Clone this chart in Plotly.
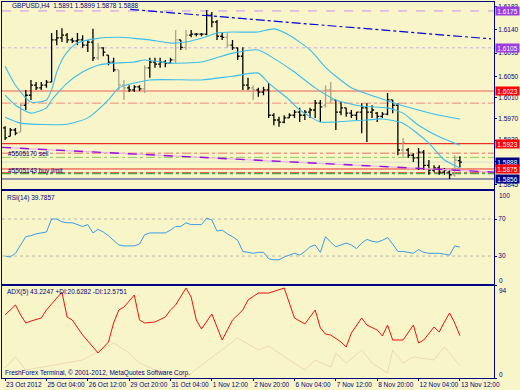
import plotly.graph_objects as go

# ---------------- data ----------------
time_labels = ["23 Oct 2012", "25 Oct 04:00", "26 Oct 12:00", "29 Oct 20:00", "31 Oct 04:00",
               "1 Nov 12:00", "2 Nov 20:00", "6 Nov 04:00", "7 Nov 12:00", "8 Nov 20:00",
               "12 Nov 04:00", "13 Nov 12:00"]
time_label_bars = [0, 8, 16, 24, 32, 40, 48, 56, 64, 72, 80, 88]

bar_open = [1.5953, 1.5937, 1.5949, 1.5945, 1.5996, 1.6015, 1.6034, 1.6029, 1.6034, 1.6040,
            1.6120, 1.6124, 1.6129, 1.6120, 1.6118, 1.6120, 1.6110, 1.6116, 1.6086, 1.6105,
            1.6091, 1.6078, 1.6063, 1.6034, 1.6029, 1.6025, 1.6031, 1.6027, 1.6067, 1.6078,
            1.6074, 1.6078, 1.6076, 1.6082, 1.6120, 1.6106, 1.6129, 1.6131, 1.6131, 1.6131,
            1.6167, 1.6154, 1.6127, 1.6125, 1.6110, 1.6105, 1.6089, 1.6034, 1.6029, 1.6025,
            1.6021, 1.6025, 1.5977, 1.5968, 1.5964, 1.5972, 1.5977, 1.5983, 1.5977, 1.5983,
            1.5987, 1.6000, 1.5996, 1.6025, 1.6006, 1.5983, 1.5991, 1.5981, 1.5977, 1.5983,
            1.5991, 1.5983, 1.5981, 1.5975, 1.5979, 1.6006, 1.5996, 1.5911, 1.5911, 1.5901,
            1.5896, 1.5907, 1.5882, 1.5873, 1.5877, 1.5869, 1.5869, 1.5864, 1.5891]
bar_high = [1.5956, 1.5953, 1.5953, 1.6000, 1.6025, 1.6044, 1.6040, 1.6040, 1.6044, 1.6133,
            1.6139, 1.6142, 1.6133, 1.6124, 1.6133, 1.6129, 1.6120, 1.6141, 1.6114, 1.6106,
            1.6091, 1.6086, 1.6063, 1.6044, 1.6034, 1.6034, 1.6034, 1.6072, 1.6086, 1.6086,
            1.6086, 1.6082, 1.6086, 1.6139, 1.6120, 1.6139, 1.6139, 1.6133, 1.6133, 1.6177,
            1.6173, 1.6158, 1.6133, 1.6133, 1.6120, 1.6105, 1.6106, 1.6048, 1.6034, 1.6029,
            1.6031, 1.6038, 1.5981, 1.5974, 1.5977, 1.5981, 1.5987, 1.5991, 1.5987, 1.5991,
            1.6006, 1.6006, 1.6034, 1.6040, 1.6006, 1.6002, 1.5991, 1.5987, 1.5983, 1.6000,
            1.6000, 1.5996, 1.5983, 1.5983, 1.6019, 1.6006, 1.6000, 1.5934, 1.5915, 1.5905,
            1.5915, 1.5911, 1.5892, 1.5882, 1.5882, 1.5877, 1.5873, 1.5901, 1.5899]
bar_low = [1.5930, 1.5937, 1.5939, 1.5945, 1.5987, 1.6006, 1.6025, 1.6025, 1.6029, 1.6040,
           1.6110, 1.6116, 1.6114, 1.6114, 1.6110, 1.6105, 1.6097, 1.6080, 1.6082, 1.6089,
           1.6072, 1.6059, 1.6025, 1.6006, 1.6021, 1.6021, 1.6023, 1.6019, 1.6048, 1.6067,
           1.6067, 1.6068, 1.6076, 1.6076, 1.6101, 1.6101, 1.6125, 1.6127, 1.6127, 1.6129,
           1.6144, 1.6120, 1.6120, 1.6105, 1.6101, 1.6082, 1.6025, 1.6025, 1.6006, 1.6012,
           1.6015, 1.5972, 1.5958, 1.5955, 1.5962, 1.5972, 1.5972, 1.5964, 1.5968, 1.5972,
           1.5972, 1.5964, 1.5991, 1.6000, 1.5949, 1.5977, 1.5974, 1.5972, 1.5968, 1.5943,
           1.5926, 1.5972, 1.5964, 1.5972, 1.5977, 1.5981, 1.5901, 1.5898, 1.5896, 1.5888,
           1.5873, 1.5873, 1.5864, 1.5869, 1.5864, 1.5864, 1.5856, 1.5860, 1.5878]
bar_close = [1.5934, 1.5949, 1.5943, 1.5996, 1.6015, 1.6034, 1.6029, 1.6034, 1.6040, 1.6120,
             1.6124, 1.6129, 1.6120, 1.6118, 1.6120, 1.6110, 1.6116, 1.6086, 1.6105, 1.6097,
             1.6078, 1.6063, 1.6034, 1.6029, 1.6025, 1.6031, 1.6027, 1.6067, 1.6078, 1.6074,
             1.6078, 1.6076, 1.6082, 1.6120, 1.6106, 1.6129, 1.6131, 1.6131, 1.6131, 1.6167,
             1.6154, 1.6127, 1.6125, 1.6110, 1.6105, 1.6089, 1.6034, 1.6029, 1.6025, 1.6021,
             1.6025, 1.5977, 1.5968, 1.5964, 1.5972, 1.5977, 1.5983, 1.5977, 1.5983, 1.5987,
             1.6000, 1.5993, 1.6025, 1.6006, 1.5983, 1.5991, 1.5981, 1.5977, 1.5983, 1.5991,
             1.5983, 1.5987, 1.5975, 1.5979, 1.6006, 1.5996, 1.5911, 1.5926, 1.5901, 1.5896,
             1.5907, 1.5882, 1.5873, 1.5877, 1.5869, 1.5873, 1.5864, 1.5892, 1.5888]
grey_bars = [3, 18, 22, 23, 27, 33, 35, 43, 48, 62, 63, 77, 87]

# Bollinger bands (bar index, price)
bb_upper_idx = [0, 2, 5, 8, 9, 10, 11, 12, 14, 18, 22, 25, 28, 32, 35, 38, 41, 44, 49, 52, 55, 59, 62, 64, 67, 69, 72, 76, 80, 84, 88]
bb_upper = [1.6070, 1.6034, 1.6002, 1.6006, 1.6025, 1.6059, 1.6082, 1.6097, 1.6114, 1.6123, 1.6125, 1.6123, 1.6120, 1.6114, 1.6116, 1.6123,
            1.6133, 1.6135, 1.6135, 1.6141, 1.6129, 1.6101, 1.6068, 1.6051, 1.6029, 1.6021, 1.6011, 1.5998, 1.5987, 1.5977, 1.5970]
bb_mid_idx = [0, 2, 5, 8, 9, 12, 15, 18, 21, 25, 27, 32, 38, 44, 49, 52, 56, 60, 64, 69, 74, 77, 80, 84, 88]
bb_mid = [1.6015, 1.5996, 1.5981, 1.5991, 1.6006, 1.6038, 1.6059, 1.6072, 1.6076, 1.6078, 1.6082, 1.6076, 1.6078, 1.6095, 1.6101, 1.6085,
          1.6059, 1.6029, 1.6006, 1.5994, 1.5991, 1.5981, 1.5958, 1.5936, 1.5920]
bb_lower_idx = [0, 3, 12, 16, 20, 22, 28, 38, 44, 49, 51, 55, 57, 61, 63, 70, 73, 77, 82, 85, 88]
bb_lower = [1.5973, 1.5962, 1.5960, 1.5972, 1.6006, 1.6029, 1.6044, 1.6044, 1.6051, 1.6057, 1.6038, 1.6006, 1.5987, 1.5964, 1.5964,
            1.5968, 1.5970, 1.5962, 1.5924, 1.5892, 1.5877]

# drawn trend lines (bar index, price)
trend_blue_idx = [24.2, 94.0]
trend_blue = [1.6178, 1.6122]
trend_purple_idx = [-0.6, 94.6]
trend_purple = [1.5916, 1.5869]

# horizontal levels: price, color, dash
levels = [
    (1.6175, "#C890EE", "dash"),
    (1.6105, "#D0B0E0", "dot"),
    (1.6023, "#F05A50", "solid"),
    (1.6000, "#F08878", "dashdot"),
    (1.5923, "#E80000", "solid"),
    (1.5905, "#E87060", "dashdot"),
    (1.5897, "#90C860", "dashdot"),
    (1.5888, "#DCDCD4", "solid"),
    (1.5875, "#F03030", "solid"),
    (1.5868, "#E04040", "dashdot"),
    (1.5866, "#20A020", "dashdot"),
    (1.5856, "#303090", "solid"),
]
price_tags = [(1.6175, "#9B3BE0"), (1.6105, "#9B3BE0"), (1.6023, "#FF0000"), (1.5923, "#FF0000"),
              (1.5888, "#000080"), (1.5875, "#FF0000"), (1.5856, "#000080")]
price_ticks = [1.6183, 1.6140, 1.6095, 1.6050, 1.6010, 1.5970, 1.5930, 1.5890, 1.5845]

order_labels = [("#5505170 sell", 1.5905), ("#5505143 buy limit", 1.5872)]

rsi = [30, 29, 33, 42, 51, 52, 54, 55, 56, 70, 70, 67, 66, 66, 64, 62, 64, 55, 59, 56,
       52, 47, 42, 41, 41, 41, 43, 53, 55, 55, 55, 55, 58, 62, 62, 66, 64, 64, 64, 71,
       69, 57, 58, 54, 51, 47, 35, 34, 33, 34, 34, 27, 26, 26, 29, 31, 33, 31, 35, 40,
       42, 34, 51, 45, 40, 42, 44, 42, 38, 44, 48, 46, 45, 47, 50, 43, 35, 35, 34, 33,
       37, 34, 33, 33, 33, 32, 31, 41, 39.7857]
rsi_levels = [70, 30]

adx_idx = [0, 2, 3, 4, 5, 7, 8, 10, 11, 12, 13, 15, 18, 20, 21, 22, 23, 25, 26, 27, 29, 31, 32, 33, 35, 36, 37, 38, 40, 42, 44, 46, 47,
           49, 51, 54, 55, 56, 58, 60, 61, 62, 63, 65, 66, 67, 69, 70, 72, 73, 74, 75, 77, 78, 79, 80, 81, 83, 84, 85, 86, 87, 88]
adx = [64.4, 74.6, 64.4, 56.2, 58.2, 61.3, 69.5, 81.7, 87.8, 62.3, 59.2, 43.9, 25.5, 36.8, 56.2, 69.5, 72.5, 84.8, 59.2, 56.2, 57.2,
       62.3, 69.5, 74.6, 91.9, 82.7, 59.2, 50.1, 65.4, 38.8, 59.2, 69.5, 79.7, 86.8, 86.8, 91.9, 76.6, 61.3, 55.2, 69.5, 51.1, 44.9,
       43.9, 36.8, 31.7, 46.0, 61.3, 54.1, 49.0, 42.9, 54.1, 38.8, 38.8, 46.0, 54.1, 35.8, 38.8, 52.1, 47.0, 57.2, 66.4, 56.2, 43.2247]
minus_di_idx = [0, 2, 4, 15, 21, 24, 26, 29, 35, 41, 45, 49, 51, 55, 58, 60, 63, 64, 66, 69, 71, 74, 75, 77, 79, 83, 85, 88]
minus_di = [10.2, 21.5, 8.2, 18.4, 35.8, 25.5, 15.3, 8.2, 1.0, 25.5, 40.9, 28.6, 32.7, 18.4, 8.2, 18.4, 11.2, 25.5, 15.3, 28.6,
            15.3, 5.1, 28.6, 15.3, 21.5, 18.4, 31.7, 12.5751]

# ---------------- figure ----------------
BG = "#F8F6C9"
NAVY = "#000080"
FONT = "Liberation Sans"
bar_index = list(range(len(bar_open)))
black_bars = [i for i in bar_index if i not in grey_bars]

fig = go.Figure()

shapes = []
for p, c, d in levels:
    shapes.append(dict(type="line", xref="x domain", yref="y", x0=0, x1=1, y0=p, y1=p,
                       line=dict(color=c, width=1, dash=d), layer="below"))
for lv in rsi_levels:
    shapes.append(dict(type="line", xref="x2 domain", yref="y2", x0=0, x1=1, y0=lv, y1=lv,
                       line=dict(color="#B8B8B0", width=1, dash="dot"), layer="below"))

fig.add_trace(go.Scatter(x=trend_purple_idx, y=trend_purple, mode="lines",
                         line=dict(color="#E6B8EA", width=1.2), hoverinfo="skip"))
fig.add_trace(go.Scatter(x=trend_purple_idx, y=trend_purple, mode="lines",
                         line=dict(color="#9A10D8", width=1.4, dash="9px,9px"), hoverinfo="skip"))
fig.add_trace(go.Scatter(x=trend_blue_idx, y=trend_blue, mode="lines",
                         line=dict(color="#0000DD", width=1.2, dash="dashdot"), hoverinfo="skip"))

for xs, ys in ((bb_upper_idx, bb_upper), (bb_mid_idx, bb_mid), (bb_lower_idx, bb_lower)):
    fig.add_trace(go.Scatter(x=xs, y=ys, mode="lines",
                             line=dict(color="#3CBDEB", width=1.1, shape="spline", smoothing=0.6),
                             hoverinfo="skip"))

def pick(arr, idx):
    return [arr[i] for i in idx]

for idx, col in ((black_bars, "#000000"), (grey_bars, "#A8A48C")):
    fig.add_trace(go.Ohlc(x=idx, open=pick(bar_open, idx), high=pick(bar_high, idx),
                          low=pick(bar_low, idx), close=pick(bar_close, idx),
                          increasing=dict(line=dict(color=col, width=1.3)),
                          decreasing=dict(line=dict(color=col, width=1.3)),
                          tickwidth=0.4, hoverinfo="skip", xaxis="x", yaxis="y"))

fig.add_trace(go.Scatter(x=bar_index, y=rsi, mode="lines", line=dict(color="#3A9BE8", width=1),
                         xaxis="x2", yaxis="y2", hoverinfo="skip"))
fig.add_trace(go.Scatter(x=minus_di_idx, y=minus_di, mode="lines", line=dict(color="#EED8B2", width=1),
                         xaxis="x3", yaxis="y3", hoverinfo="skip"))
fig.add_trace(go.Scatter(x=adx_idx, y=adx, mode="lines", line=dict(color="#F01010", width=1),
                         xaxis="x3", yaxis="y3", hoverinfo="skip"))

XR = [-0.6, 94.6]
ax_common = dict(showgrid=False, zeroline=False, showline=True, mirror=True, linecolor=NAVY, linewidth=1)
tickfont = dict(family=FONT, size=6.5, color=NAVY)

ann = []
for p, c in price_tags:
    ann.append(dict(x=1, xref="paper", y=p, yref="y", xanchor="left", yanchor="middle", xshift=1,
                    text=f"{p:.4f}", showarrow=False, bgcolor=c, font=dict(family=FONT, size=6.5, color="white"),
                    width=23, height=8, borderpad=0))
for t, p in order_labels:
    ann.append(dict(x=0.2, xref="x", y=p, yref="y", xanchor="left", yanchor="middle", text=t,
                    showarrow=False, font=dict(family=FONT, size=6.5, color=NAVY)))

def py(ypix):
    return (378 - ypix) / 376

def px(xpix):
    return (xpix - 2) / 492

texts = [
    ("GBPUSD,H4  1.5891 1.5899 1.5878 1.5888", 10, 6),
    ("RSI(14) 39.7857", 5, 198),
    ("ADX(5) 43.2247 +DI:20.6282 -DI:12.5751", 5, 292),
    ("FreshForex Terminal, © 2001-2012, MetaQuotes Software Corp.", 3, 373),
]
for t, x0, y0 in texts:
    ann.append(dict(x=px(x0), xref="paper", y=py(y0), yref="paper", xanchor="left", yanchor="middle",
                    text=t, showarrow=False, font=dict(family=FONT, size=6.5, color=NAVY)))
for t, y0 in (("100", 195), ("0", 280), ("94", 290), ("0", 374)):
    ann.append(dict(x=1, xref="paper", y=py(y0), yref="paper", xanchor="left", yanchor="middle", xshift=3,
                    text=t, showarrow=False, font=dict(family=FONT, size=6.5, color=NAVY)))

fig.update_layout(
    width=520, height=390, margin=dict(l=2, r=26, t=2, b=12),
    paper_bgcolor=BG, plot_bgcolor=BG, showlegend=False, shapes=shapes, annotations=ann,
    xaxis=dict(domain=[0, 1], anchor="y", range=XR, showticklabels=False, rangeslider=dict(visible=False), **ax_common),
    xaxis2=dict(domain=[0, 1], anchor="y2", range=XR, matches="x", showticklabels=False, **ax_common),
    xaxis3=dict(domain=[0, 1], anchor="y3", range=XR, matches="x", tickvals=time_label_bars, ticktext=time_labels,
                ticks="outside", ticklen=2, tickcolor=NAVY, ticklabelposition="outside right", tickangle=0,
                tickfont=tickfont, automargin=False, **ax_common),
    yaxis=dict(domain=[0.5027, 1], anchor="x", side="right", range=[1.5837, 1.6192], tickvals=price_ticks,
               ticktext=[f"{v:.4f}" for v in price_ticks], ticks="outside", ticklen=2, tickcolor=NAVY,
               tickfont=tickfont, automargin=False, **ax_common),
    yaxis2=dict(domain=[0.25, 0.4973], anchor="x2", side="right", range=[-0.2, 100.3], tickvals=[70, 30],
                ticks="outside", ticklen=2, tickcolor=NAVY, tickfont=tickfont, automargin=False, **ax_common),
    yaxis3=dict(domain=[0, 0.2447], anchor="x3", side="right", range=[0, 94], tickvals=[94, 0],
                showticklabels=False, ticks="outside", ticklen=2, tickcolor=NAVY, automargin=False, **ax_common),
)

fig.write_html("out.html", config={"displayModeBar": False},
               post_script="document.body.style.margin='0';document.body.style.overflow='hidden';")
